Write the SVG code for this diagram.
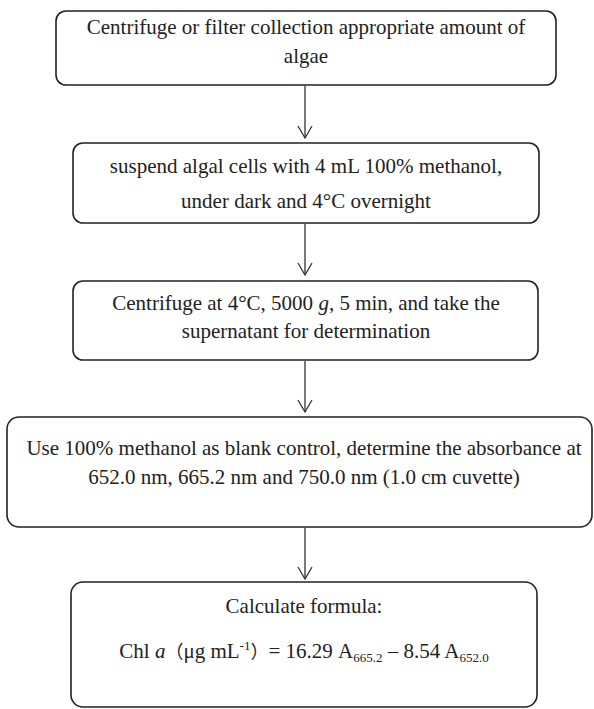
<svg xmlns="http://www.w3.org/2000/svg" width="594" height="709" viewBox="0 0 594 709">
<style>
.box{fill:#fff;stroke:#222;stroke-width:1.6}
.t{font-family:'Liberation Serif','Times New Roman',serif;font-size:21px;fill:#222;text-anchor:middle}
.cjk{font-family:'Noto Sans CJK SC',sans-serif;font-size:18px}
.c{stroke:#333;stroke-width:1.3;fill:none}
.sub{font-size:13px}
</style>
<defs>
<marker id="ah" markerUnits="userSpaceOnUse" markerWidth="20" markerHeight="20" viewBox="-14 -10 16 20" refX="0" refY="0" orient="auto" overflow="visible">
<path d="M-12,-7 L0,0 L-12,7" fill="none" stroke="#333" stroke-width="1.3"/>
</marker>
</defs>
<rect width="594" height="709" fill="#fff"/>
<g id="connectors">
<line class="c" x1="305" y1="86" x2="305" y2="138" marker-end="url(#ah)"/>
<line class="c" x1="305" y1="224" x2="305" y2="275" marker-end="url(#ah)"/>
<line class="c" x1="305" y1="361" x2="305" y2="412" marker-end="url(#ah)"/>
<line class="c" x1="305" y1="528" x2="305" y2="579" marker-end="url(#ah)"/>
</g>
<g id="n1">
<rect class="box" x="56" y="11" width="500" height="74" rx="10"/>
<text class="t" x="306" y="34">Centrifuge or filter collection appropriate amount of</text>
<text class="t" x="306" y="63">algae</text>
</g>
<g id="n2">
<rect class="box" x="73" y="143" width="466" height="80" rx="10"/>
<text class="t" x="306" y="173">suspend algal cells with 4 mL 100% methanol,</text>
<text class="t" x="306" y="208">under dark and 4°C overnight</text>
</g>
<g id="n3">
<rect class="box" x="73" y="281" width="465" height="79" rx="10"/>
<text class="t" x="306" y="310">Centrifuge at 4°C, 5000 <tspan font-style="italic">g</tspan>, 5 min, and take the</text>
<text class="t" x="306" y="338">supernatant for determination</text>
</g>
<g id="n4">
<rect class="box" x="7" y="417" width="585" height="110" rx="12"/>
<text class="t" x="304" y="455">Use 100% methanol as blank control, determine the absorbance at</text>
<text class="t" x="304" y="484">652.0 nm, 665.2 nm and 750.0 nm (1.0 cm cuvette)</text>
</g>
<g id="n5">
<rect class="box" x="71" y="582" width="466" height="125" rx="12"/>
<text class="t" x="304" y="613">Calculate formula:</text>
<text class="t" x="304" y="658">Chl <tspan font-style="italic">a</tspan><tspan class="cjk">（</tspan>μg mL<tspan class="sub" dy="-8">-1</tspan><tspan class="cjk" dy="8">）</tspan>= 16.29 A<tspan class="sub" dy="4">665.2</tspan><tspan dy="-4"> – 8.54 A</tspan><tspan class="sub" dy="4">652.0</tspan></text>
</g>
</svg>
